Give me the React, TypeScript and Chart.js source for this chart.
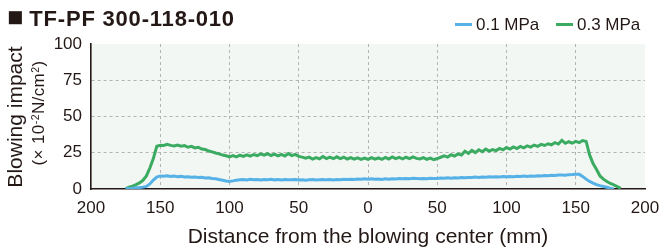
import React, { useEffect, useRef } from "react";
import { Chart, registerables } from "chart.js";

Chart.register(...registerables);

const FONT = '"Liberation Sans", Arial, Helvetica, sans-serif';
const TEXT = "#231815";

const titleMark = "■";
const chartTitle = "TF-PF 300-118-010";
const xAxisTitle = "Distance from the blowing center (mm)";
const yAxisTitle = "Blowing impact";
const seriesNames = ["0.1 MPa", "0.3 MPa"];
const seriesColors = ["#55b1e6", "#3bab62"];
const yTicks = [0, 25, 50, 75, 100];
const xTicks = [-200, -150, -100, -50, 0, 50, 100, 150, 200];

// distance from the blowing center (mm), left side negative
const distance = [
  -177.5, -175, -172.5, -170, -167.5, -165, -162.5, -160, -157.5, -155,
  -152.5, -150, -147.5, -145, -142.5, -140, -137.5, -135, -132.5, -130,
  -127.5, -125, -122.5, -120, -117.5, -115, -112.5, -110, -107.5, -105,
  -102.5, -100, -97.5, -95, -92.5, -90, -87.5, -85, -82.5, -80,
  -77.5, -75, -72.5, -70, -67.5, -65, -62.5, -60, -57.5, -55,
  -52.5, -50, -47.5, -45, -42.5, -40, -37.5, -35, -32.5, -30,
  -27.5, -25, -22.5, -20, -17.5, -15, -12.5, -10, -7.5, -5,
  -2.5, 0, 2.5, 5, 7.5, 10, 12.5, 15, 17.5, 20,
  22.5, 25, 27.5, 30, 32.5, 35, 37.5, 40, 42.5, 45,
  47.5, 50, 52.5, 55, 57.5, 60, 62.5, 65, 67.5, 70,
  72.5, 75, 77.5, 80, 82.5, 85, 87.5, 90, 92.5, 95,
  97.5, 100, 102.5, 105, 107.5, 110, 112.5, 115, 117.5, 120,
  122.5, 125, 127.5, 130, 132.5, 135, 137.5, 140, 142.5, 145,
  147.5, 150, 152.5, 155, 157.5, 160, 162.5, 165, 167.5, 170,
  172.5, 175, 177.5, 180, 182.5, 185,
];

// 0.1 MPa
const impact01 = [
  null, 0.1, 0.3, 0.5, 0.8, 1.0, 1.3, 1.8, 3.5, 6.2,
  8.2, 9.0, 8.8, 9.1, 8.7, 8.9, 8.5, 8.7, 8.3, 8.5,
  8.1, 8.3, 7.9, 8.1, 7.6, 7.8, 7.3, 7.1, 6.5, 6.0,
  5.5, 5.2, 5.6, 6.1, 6.4, 6.6, 6.3, 6.7, 6.4, 6.6,
  6.3, 6.6, 6.4, 6.7, 6.3, 6.5, 6.2, 6.6, 6.4, 6.3,
  6.5, 6.2, 6.4, 6.1, 6.3, 6.5, 6.2, 6.4, 6.6, 6.3,
  6.5, 6.2, 6.6, 6.4, 6.7, 6.5, 6.8, 6.6, 6.9, 6.7,
  7.0, 6.8, 7.0, 6.7, 6.9, 6.6, 7.0, 6.8, 7.1, 6.9,
  7.2, 7.0, 7.3, 7.1, 7.4, 7.2, 7.0, 7.3, 7.1, 7.4,
  7.2, 7.3, 7.5, 7.4, 7.7, 7.5, 7.8, 7.6, 7.9, 7.8,
  8.0, 7.9, 8.2, 8.0, 8.3, 8.1, 8.4, 8.2, 8.5, 8.3,
  8.6, 8.5, 8.7, 8.5, 8.8, 8.6, 8.9, 8.7, 9.0, 8.8,
  9.2, 9.0, 9.3, 9.1, 9.5, 9.3, 9.6, 9.7, 9.5, 9.9,
  10.0, 10.2, 10.1, 8.6, 6.8, 5.2, 4.0, 3.0, 2.3, 1.7,
  1.2, 0.6, 0.1, null, null, null,
];

// 0.3 MPa
const impact03 = [
  null, 0.3, 1.2, 2.0, 3.0, 4.2, 6.0, 9.0, 14.5, 21.0,
  29.5, 30.2, 30.0, 30.8, 30.1, 29.7, 30.3, 29.5, 29.9, 28.8,
  29.4, 28.3, 28.8, 27.6, 27.2, 26.2, 25.6, 24.8, 24.2, 23.4,
  22.9, 22.2, 23.0, 22.1, 23.3, 22.5, 23.6, 22.7, 23.8, 23.0,
  24.2, 23.3, 24.3, 23.1, 24.0, 22.8, 23.8, 22.7, 24.4, 23.0,
  23.9, 22.5, 22.0, 21.2, 22.0, 20.6, 21.7, 20.8, 22.4, 21.0,
  22.0, 20.9, 22.2, 21.0, 21.9, 20.7, 21.7, 20.6, 21.5, 20.4,
  21.3, 20.5, 21.6, 20.6, 21.4, 20.4, 21.8, 20.7, 22.1, 20.9,
  21.8, 20.8, 21.9, 21.0, 22.2, 21.1, 20.7, 21.7, 20.5, 21.3,
  20.3, 21.0, 21.9, 22.8, 22.0, 23.6, 22.7, 24.2, 23.4, 26.0,
  24.5, 26.6, 25.1, 27.1, 25.7, 27.5, 26.1, 27.2, 26.5, 28.0,
  27.0, 28.6, 27.5, 29.0, 27.9, 29.4, 28.4, 29.8, 28.9, 30.3,
  29.4, 30.8, 30.0, 31.2, 30.5, 32.0, 31.0, 33.6, 31.5, 32.6,
  31.7, 32.8, 32.0, 33.4, 32.8, 23.5, 17.5, 13.5, 9.0, 6.8,
  5.2, 3.8, 2.8, 1.7, 0.5, null,
];

const series = [impact01, impact03];

const plotBackground = {
  id: "plotBackground",
  beforeDraw(chart: any) {
    const { ctx, chartArea: a } = chart;
    ctx.save();
    ctx.fillStyle = "#f2f7f3";
    ctx.fillRect(a.left, a.top, a.right - a.left, a.bottom - a.top);
    ctx.restore();
  },
};

export default function App() {
  const canvasRef = useRef<HTMLCanvasElement | null>(null);

  useEffect(() => {
    if (!canvasRef.current) return;
    const chart = new Chart(canvasRef.current, {
      type: "line",
      data: {
        datasets: series.map((vals, si) => ({
          label: seriesNames[si],
          data: distance.map((x, i) => ({ x, y: vals[i] })),
          borderColor: seriesColors[si],
          backgroundColor: seriesColors[si],
          borderWidth: 3,
          pointRadius: 0,
          tension: 0,
          fill: false,
        })),
      },
      options: {
        responsive: false,
        animation: false,
        events: [],
        layout: { padding: { top: 44, right: 16, left: 0, bottom: 0 } },
        plugins: {
          legend: { display: false },
          title: { display: false },
          tooltip: { enabled: false },
        },
        scales: {
          x: {
            type: "linear",
            min: -200,
            max: 200,
            afterBuildTicks: (s: any) => {
              s.ticks = xTicks.map((v) => ({ value: v }));
            },
            afterFit: (s: any) => {
              s.height = 62;
              s.paddingLeft = 0;
              s.paddingRight = 0;
            },
            ticks: {
              autoSkip: false,
              maxRotation: 0,
              padding: 9,
              color: TEXT,
              font: { family: FONT, size: 17 },
              callback: (v: any) => String(Math.abs(Number(v))),
            },
            grid: {
              drawTicks: false,
              lineWidth: 1,
              color: (c: any) =>
                c.tick && Math.abs(c.tick.value) === 200 ? "rgba(0,0,0,0)" : "#b3b3b3",
            },
            border: { display: true, color: TEXT, width: 1.6, dash: [3, 3] },
            title: {
              display: true,
              text: xAxisTitle,
              color: TEXT,
              font: { family: FONT, size: 21 },
              padding: { top: 0, bottom: 1.5 },
            },
          },
          y: {
            type: "linear",
            min: 0,
            max: 100,
            afterBuildTicks: (s: any) => {
              s.ticks = yTicks.map((v) => ({ value: v }));
            },
            afterFit: (s: any) => {
              s.width = 91;
            },
            ticks: {
              padding: 9,
              color: TEXT,
              font: { family: FONT, size: 17 },
            },
            grid: {
              drawTicks: false,
              lineWidth: 1,
              color: (c: any) =>
                c.tick && (c.tick.value === 0 || c.tick.value === 100)
                  ? "rgba(0,0,0,0)"
                  : "#b3b3b3",
            },
            border: { display: true, color: TEXT, width: 1.6, dash: [3, 3] },
          },
        },
      },
      plugins: [plotBackground],
    } as any);
    return () => chart.destroy();
  }, []);

  const sup: React.CSSProperties = {
    fontSize: "0.62em",
    position: "relative",
    top: "-0.5em",
  };

  return (
    <div
      style={{
        position: "absolute",
        left: 0,
        top: 0,
        width: 661,
        height: 251,
        overflow: "hidden",
        fontFamily: FONT,
        color: TEXT,
        background: "#ffffff",
      }}
    >
      <canvas ref={canvasRef} width={661} height={251} style={{ display: "block" }} />
      <div
        style={{
          position: "absolute",
          left: 7,
          top: 8,
          fontSize: 22,
          lineHeight: "22px",
          fontWeight: "bold",
          letterSpacing: "0.8px",
          whiteSpace: "nowrap",
        }}
      >
        <span style={{ fontSize: 27, lineHeight: 0, letterSpacing: "6px" }}>{titleMark}</span>
        {chartTitle}
      </div>
      {/* legend */}
      {seriesNames.map((name, i) => (
        <React.Fragment key={name}>
          <div
            style={{
              position: "absolute",
              left: i === 0 ? 455 : 556,
              top: 23,
              width: 17,
              height: 3,
              background: seriesColors[i],
            }}
          />
          <div
            style={{
              position: "absolute",
              left: i === 0 ? 476 : 577,
              top: 16,
              fontSize: 17,
              lineHeight: "17px",
              whiteSpace: "nowrap",
            }}
          >
            {name}
          </div>
        </React.Fragment>
      ))}
      {/* y axis title */}
      <div
        style={{
          position: "absolute",
          left: 14.7 - 100,
          top: 116.5 - 12,
          width: 200,
          height: 24,
          lineHeight: "24px",
          fontSize: 21,
          textAlign: "center",
          whiteSpace: "nowrap",
          transform: "rotate(-90deg)",
        }}
      >
        {yAxisTitle}
      </div>
      <div
        style={{
          position: "absolute",
          left: 38.5 - 100,
          top: 113 - 10,
          width: 200,
          height: 20,
          lineHeight: "20px",
          fontSize: 17,
          letterSpacing: "0.4px",
          textAlign: "center",
          whiteSpace: "nowrap",
          transform: "rotate(-90deg)",
        }}
      >
        (× 10<span style={sup}>-2</span>N/cm<span style={sup}>2</span>)
      </div>
    </div>
  );
}
